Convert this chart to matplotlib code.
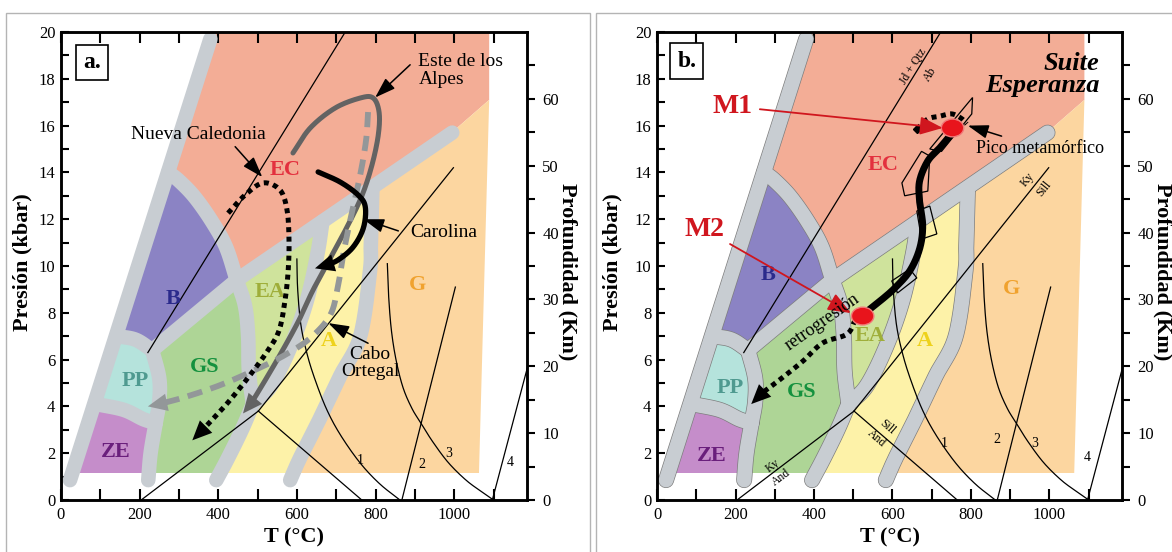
import numpy as np
import matplotlib.pyplot as plt
from matplotlib.patches import Polygon, Ellipse, Rectangle, FancyArrowPatch

plt.rcParams['font.family'] = ['Liberation Serif', 'DejaVu Serif']

# FACIES BOUNDARY BANDS (T in C, P in kbar), centre lines of the grey bands
b_left = [(23, 0.85), (380, 19.7)]
b_ec = [(447, 9.4), (995, 15.7)]
b_bs_ec = [(273, 14.0), (300, 13.65), (340, 12.95), (384, 11.9), (420, 10.8), (447, 9.4)]
b_bs_pp = [(143, 7.0), (190, 6.85), (232, 6.4)]
b_bs_gs = [(232, 6.4), (447, 9.4)]
b_pp_gs = [(232, 6.4), (250, 5.2), (250, 4.2), (241, 3.3)]
b_ze_gs = [(241, 3.3), (228, 2.0), (222, 0.85)]
b_pp_ze = [(90, 4.1), (160, 3.85), (210, 3.45), (241, 3.3)]
b_gs_ea = [(447, 9.4), (468, 8.3), (476, 7.0), (478, 5.5), (488, 4.1)]
b_gs_a = [(488, 4.1), (460, 3.0), (425, 1.8), (395, 0.85)]
b_ea_a = [(665, 11.9), (652, 10.5), (625, 8.5), (585, 6.6), (535, 4.9), (488, 4.1)]
b_a_g = [(792, 13.33), (788, 11.0), (786, 9.8), (761, 7.0), (710, 5.3), (659, 3.5), (608, 1.8), (583, 0.85)]
bands = [b_left, b_ec, b_bs_ec, b_bs_pp, b_bs_gs, b_pp_gs, b_ze_gs, b_pp_ze, b_gs_ea, b_gs_a, b_ea_a, b_a_g]

ec_corner = [(396, 20.6), (1089, 20.6), (1089, 17.1), (990, 15.65)]
g_corner = [(990, 15.65), (1089, 17.1), (1062, 0.5)]

field_names = ['EC', 'G', 'A', 'EA', 'GS', 'B', 'PP', 'ZE']
field_colors = ['#f3ad96', '#fcd6a0', '#fdf2a8', '#cfe39c', '#aed596', '#8b83c4', '#b5e3dc', '#c58dca']
label_colors = ['#e3303e', '#f0a22e', '#eed21c', '#9fae3a', '#15913e', '#2b2a8c', '#4f9a90', '#6a1f7c']
label_a = {'EC': (570, 14.1), 'G': (906, 9.2), 'A': (680, 6.8), 'EA': (532, 8.9),
           'GS': (366, 5.7), 'B': (285, 8.6), 'PP': (188, 5.1), 'ZE': (140, 2.05)}
label_b = {'EC': (575, 14.3), 'G': (903, 9.0), 'A': (682, 6.8), 'EA': (542, 7.0),
           'GS': (369, 4.6), 'B': (283, 9.6), 'PP': (186, 4.8), 'ZE': (140, 1.9)}

# REACTION CURVES
jd_T, jd_P = [221, 723], [6.3, 20.0]
ky_and_T, ky_and_P = [204, 502], [0.0, 3.8]
and_sill_T, and_sill_P = [502, 765], [3.8, 0.0]
ky_sill_T, ky_sill_P = [502, 998], [3.8, 14.2]
melt1_T = [600, 602, 610, 625, 645, 675, 710, 760, 810, 862]
melt1_P = [10.3, 9.0, 7.5, 6.3, 5.2, 3.9, 2.8, 1.6, 0.7, 0.0]
melt2_T, melt2_P = [867, 1003], [0.0, 9.1]
melt3_T = [830, 833, 840, 852, 870, 893, 915, 945, 985, 1030, 1070, 1100]
melt3_P = [10.1, 8.8, 7.3, 6.0, 4.8, 3.9, 3.3, 2.5, 1.6, 0.85, 0.35, 0.0]
melt4_T, melt4_P = [1097, 1190], [0.0, 5.9]
curve_lab_a = [('1', 761, 1.7), ('2', 919, 1.5), ('3', 985, 2.0), ('4', 1143, 1.6)]
curve_lab_b = [('1', 733, 2.4), ('2', 865, 2.6), ('3', 962, 2.4), ('4', 1097, 1.8)]

# P-T PATHS, panel a
nc_T = [425, 468, 514, 557, 575, 580, 578, 570, 555, 527, 481, 430, 384, 352]
nc_P = [12.26, 13.03, 13.55, 13.25, 12.39, 11.11, 9.83, 8.55, 7.26, 6.41, 5.34, 4.27, 3.42, 2.85]
nc_tip = (334, 2.55)
alp_T = [590, 634, 697, 761, 794, 809, 807, 791, 766, 730, 685, 641, 603, 557, 512, 481]
alp_P = [14.83, 15.90, 16.75, 17.18, 17.18, 16.58, 15.60, 14.32, 13.03, 11.75, 10.34, 8.97, 7.61, 6.20, 4.91, 4.06]
alp_tip = (463, 3.7)
co_T = [781, 776, 761, 741, 720, 705, 685, 634, 570, 494, 405, 316, 250]
co_P = [16.58, 15.38, 13.89, 12.39, 10.68, 9.19, 7.91, 6.92, 6.20, 5.56, 4.91, 4.40, 4.10]
co_tip = (221, 4.0)
car_T = [654, 710, 756, 774, 769, 743, 705, 675]
car_P = [14.02, 13.59, 13.03, 12.52, 11.62, 10.81, 10.26, 10.04]
car_tip = (646, 9.9)

# P-T PATH, panel b (Suite Esperanza)
esp_T = [524, 568, 606, 644, 669, 677, 669, 669, 690, 720, 753]
esp_P = [7.91, 8.50, 9.06, 9.79, 10.73, 11.71, 12.78, 13.63, 14.49, 15.04, 15.7]
retro_T = [505, 484, 422, 372, 318, 270]
retro_P = [7.7, 7.09, 6.71, 5.94, 5.21, 4.6]
retro_tip = (240, 4.1)
peak_T = [662, 690, 720, 751, 776, 789]
peak_P = [15.85, 16.28, 16.4, 16.5, 16.3, 16.07]
m1 = (753, 15.9)
m2 = (524, 7.86)
boxes = [
    [(695, 15.0), (789, 16.9), (804, 17.2), (802, 16.5), (725, 14.9)],
    [(624, 13.55), (674, 14.9), (695, 14.7), (690, 13.2), (631, 13.0)],
    [(662, 12.35), (695, 12.56), (713, 11.37), (674, 11.15)],
    [(598, 9.36), (644, 9.87), (662, 9.49), (613, 8.85)],
]

band_col = '#c8cdd2'
band_lw = 10.5


def smooth(pts, n=24):
    # catmull-rom through the points
    p = np.asarray(pts, float)
    if len(p) < 3:
        return p
    ext = np.vstack([2 * p[0] - p[1], p, 2 * p[-1] - p[-2]])
    t = np.linspace(0, 1, n, endpoint=False)[:, None]
    segs = []
    for i in range(1, len(ext) - 2):
        p0, p1, p2, p3 = ext[i - 1], ext[i], ext[i + 1], ext[i + 2]
        segs.append(0.5 * (2 * p1 + (p2 - p0) * t + (2 * p0 - 5 * p1 + 4 * p2 - p3) * t ** 2
                           + (3 * p1 - p0 - 3 * p2 + p3) * t ** 3))
    segs.append(p[-1:])
    return np.vstack(segs)


def rev(b):
    return list(reversed(b))


def field(*parts):
    return np.vstack([q if isinstance(q, np.ndarray) else smooth(q) for q in parts])


fields = [
    field(np.array(ec_corner), rev(b_ec), rev(b_bs_ec)),
    field(np.array(g_corner), rev(b_a_g)),
    field(b_ea_a, b_gs_a, rev(b_a_g)),
    field(b_ea_a, rev(b_gs_ea)),
    field(b_bs_gs, b_gs_ea, b_gs_a, rev(b_ze_gs), rev(b_pp_gs)),
    field(b_bs_pp, b_bs_gs, rev(b_bs_ec)),
    field(b_bs_pp, b_pp_gs, rev(b_pp_ze)),
    field(b_pp_ze, b_ze_gs, np.array([(23, 0.5)])),
]


def head(ax, p0, p1, color, ms, hl=1.0, hw=0.45):
    ax.add_patch(FancyArrowPatch(p0, p1, arrowstyle='-|>,head_length=%g,head_width=%g' % (hl, hw),
                                 mutation_scale=ms, color=color, lw=0, shrinkA=0, shrinkB=0, zorder=7))


def pointer(ax, start, tip, color='k', lw=1.1):
    ax.annotate('', xy=tip, xytext=start,
                arrowprops=dict(arrowstyle='-|>,head_length=0.9,head_width=0.3', color=color,
                                lw=lw, mutation_scale=14, shrinkA=0, shrinkB=0), zorder=8)


def base(ax, labels, curve_labels, outline=False):
    clip = Rectangle((0, 1.15), 1185, 18.85, transform=ax.transData)
    for pts, col in zip(fields, field_colors):
        poly = Polygon(pts, closed=True, fc=col, ec='none', zorder=1)
        ax.add_patch(poly)
        poly.set_clip_path(clip)
    if outline:
        for b in bands:
            s = smooth(b)
            ax.plot(s[:, 0], s[:, 1], color='#7d7d7d', lw=band_lw + 1.0, solid_capstyle='round',
                    solid_joinstyle='round', zorder=2)
    for b in bands:
        s = smooth(b)
        ax.plot(s[:, 0], s[:, 1], color=band_col, lw=band_lw, solid_capstyle='round',
                solid_joinstyle='round', zorder=2)
    lines = [(jd_T, jd_P), (ky_and_T, ky_and_P), (and_sill_T, and_sill_P), (ky_sill_T, ky_sill_P),
             (melt2_T, melt2_P), (melt4_T, melt4_P)]
    for T, P in lines:
        ax.plot(T, P, color='k', lw=0.9, zorder=3)
    for T, P in [(melt1_T, melt1_P), (melt3_T, melt3_P)]:
        s = smooth(list(zip(T, P)))
        ax.plot(s[:, 0], s[:, 1], color='k', lw=0.9, zorder=3)
    for txt, x, y in curve_labels:
        ax.text(x, y, txt, fontsize=10, ha='center', va='center', zorder=3)
    for name, col in zip(field_names, label_colors):
        x, y = labels[name]
        ax.text(x, y, name, color=col, fontsize=16, fontweight='bold', ha='center', va='center', zorder=5)

    ax.set_xlim(0, 1185)
    ax.set_ylim(0, 20)
    ax.set_xticks(range(0, 1001, 200))
    ax.set_xticks(range(100, 1200, 200), minor=True)
    ax.set_yticks(range(0, 21, 2))
    ax.set_yticks(range(1, 20, 2), minor=True)
    ax.tick_params(axis='x', which='both', direction='in', length=8, width=1.5, top=True,
                   labelsize=12, pad=5)
    ax.tick_params(axis='y', which='both', direction='in', length=6, width=1.5, labelsize=12, pad=4)
    for sp in ax.spines.values():
        sp.set_linewidth(1.8)
    ax2 = ax.twinx()
    ax2.set_ylim(0, 70)
    ax2.set_yticks(range(0, 61, 10))
    ax2.set_yticks(range(5, 70, 10), minor=True)
    ax2.tick_params(axis='y', which='both', direction='out', length=6, width=1.5, labelsize=12, pad=5)
    for sp in ax2.spines.values():
        sp.set_linewidth(1.8)


fig = plt.figure(figsize=(11.72, 5.52), dpi=100)
ax_a = fig.add_axes([0.0520, 0.0942, 0.3976, 0.8478])
ax_b = fig.add_axes([0.5606, 0.0942, 0.3968, 0.8478])

# panel frames
fig.add_artist(Rectangle((6 / 1172, -0.01), 584 / 1172, 1.01 - 12.5 / 552, transform=fig.transFigure,
                         fill=False, ec='#b4b4b4', lw=1))
fig.add_artist(Rectangle((596 / 1172, -0.01), 580 / 1172, 1.01 - 12.5 / 552, transform=fig.transFigure,
                         fill=False, ec='#b4b4b4', lw=1))

# ---------------- panel a ----------------
base(ax_a, label_a, curve_lab_a)
ax = ax_a
s = smooth(list(zip(nc_T, nc_P)))
ax.plot(s[:, 0], s[:, 1], color='k', lw=3.6, dashes=(1.0, 0.9), zorder=5)
head(ax, s[-2], nc_tip, 'k', 14)
s = smooth(list(zip(alp_T, alp_P)))
ax.plot(s[:, 0], s[:, 1], color='#636363', lw=3.6, solid_capstyle='round', zorder=4)
head(ax, s[-2], alp_tip, '#636363', 14)
s = smooth(list(zip(co_T, co_P)))
ax.plot(s[:, 0], s[:, 1], color='#939799', lw=4.2, dashes=(2.6, 1.5), zorder=4)
head(ax, s[-2], co_tip, '#939799', 14)
s = smooth(list(zip(car_T, car_P)))
ax.plot(s[:, 0], s[:, 1], color='k', lw=3.8, solid_capstyle='round', zorder=5)
head(ax, s[-2], car_tip, 'k', 14)

ax.text(349, 15.6, 'Nueva Caledonia', fontsize=14, ha='center', va='center', zorder=8)
pointer(ax, (443, 15.1), (512, 13.8))
ax.text(909, 18.35, 'Este de los\nAlpes', fontsize=14, ha='left', va='center', linespacing=1.1, zorder=8)
pointer(ax, (888, 18.6), (799, 17.2))
ax.text(888, 11.45, 'Carolina', fontsize=14, ha='left', va='center', zorder=8)
pointer(ax, (858, 11.5), (769, 12.0))
ax.text(786, 5.85, 'Cabo\nOrtegal', fontsize=14, ha='center', va='center', linespacing=0.95, zorder=8)
pointer(ax, (781, 6.7), (680, 7.56))
ax.text(79, 18.68, 'a.', fontsize=17, fontweight='bold', ha='center', va='center', zorder=8,
        bbox=dict(boxstyle='square,pad=0.3', fc='white', ec='black', lw=1.2))

# ---------------- panel b ----------------
base(ax_b, label_b, curve_lab_b, outline=True)
ax = ax_b
kw = dict(fontsize=8.5, ha='center', va='center', zorder=3)
ax.text(652, 18.55, 'Jd + Qtz', rotation=58, **kw)
ax.text(697, 18.2, 'Ab', rotation=58, **kw)
ax.text(944, 13.7, 'Ky', rotation=51, **kw)
ax.text(985, 13.3, 'Sill', rotation=51, **kw)
ax.text(295, 1.45, 'Ky', rotation=37, **kw)
ax.text(315, 0.95, 'And', rotation=37, **kw)
ax.text(588, 3.1, 'Sill', rotation=-41, **kw)
ax.text(560, 2.65, 'And', rotation=-41, **kw)

for bx in boxes:
    ax.add_patch(Polygon(bx, closed=True, fill=False, ec='k', lw=0.9, zorder=4))
s = smooth(list(zip(esp_T, esp_P)))
ax.plot(s[:, 0], s[:, 1], color='k', lw=5, solid_capstyle='round', zorder=5)
s = smooth(list(zip(retro_T, retro_P)))
ax.plot(s[:, 0], s[:, 1], color='k', lw=3.6, dashes=(1.0, 0.9), zorder=5)
head(ax, s[-2], retro_tip, 'k', 14)
s = smooth(list(zip(peak_T, peak_P)))
ax.plot(s[:, 0], s[:, 1], color='k', lw=3.6, dashes=(1.0, 0.9), zorder=5)
ax.plot(peak_T[0], peak_P[0], marker='D', ms=4, color='k', zorder=5)
for c in (m1, m2):
    ax.add_patch(Ellipse(c, 57, 0.76, fc='#e8141c', ec='#f27a7a', lw=1, zorder=6))

ax.text(193, 16.8, 'M1', color='#d0161e', fontsize=20, fontweight='bold', ha='center', va='center', zorder=8)
ax.text(122, 11.58, 'M2', color='#d0161e', fontsize=20, fontweight='bold', ha='center', va='center', zorder=8)
ax.annotate('', xy=(728, 15.9), xytext=(262, 16.7),
            arrowprops=dict(arrowstyle='-|>,head_length=1.0,head_width=0.4', color='#d0161e', lw=1.3,
                            mutation_scale=14, shrinkA=0, shrinkB=0), zorder=8)
ax.annotate('', xy=(494, 7.99), xytext=(186, 10.94),
            arrowprops=dict(arrowstyle='-|>,head_length=1.0,head_width=0.4', color='#d0161e', lw=1.3,
                            mutation_scale=14, shrinkA=0, shrinkB=0), zorder=8)
ax.text(814, 15.04, 'Pico metamórfico', fontsize=13, ha='left', va='center', zorder=8)
pointer(ax, (878, 15.55), (792, 16.0))
ax.text(422, 7.6, 'retrogresión', fontsize=13, rotation=35, ha='center', va='center', zorder=8)
ax.text(1127, 18.2, 'Suite\nEsperanza', fontsize=19, fontweight='bold', style='italic',
        ha='right', va='center', multialignment='right', linespacing=0.95, zorder=8)
ax.text(76, 18.76, 'b.', fontsize=17, fontweight='bold', ha='center', va='center', zorder=8,
        bbox=dict(boxstyle='square,pad=0.3', fc='white', ec='black', lw=1.2))

# axis titles
for x0, xc, xr in [(22, 294, 568), (612, 890, 1163)]:
    fig.text(x0 / 1172, 1 - 262 / 552, 'Presión (kbar)', rotation=90, fontsize=16, fontweight='bold',
             ha='center', va='center')
    fig.text(xc / 1172, 1 - 537 / 552, 'T (°C)', fontsize=16, fontweight='bold', ha='center', va='center')
    fig.text(xr / 1172, 1 - 272 / 552, 'Profundidad (Km)', rotation=-90, fontsize=16, fontweight='bold',
             ha='center', va='center')

fig.savefig('out.png', dpi=100)
